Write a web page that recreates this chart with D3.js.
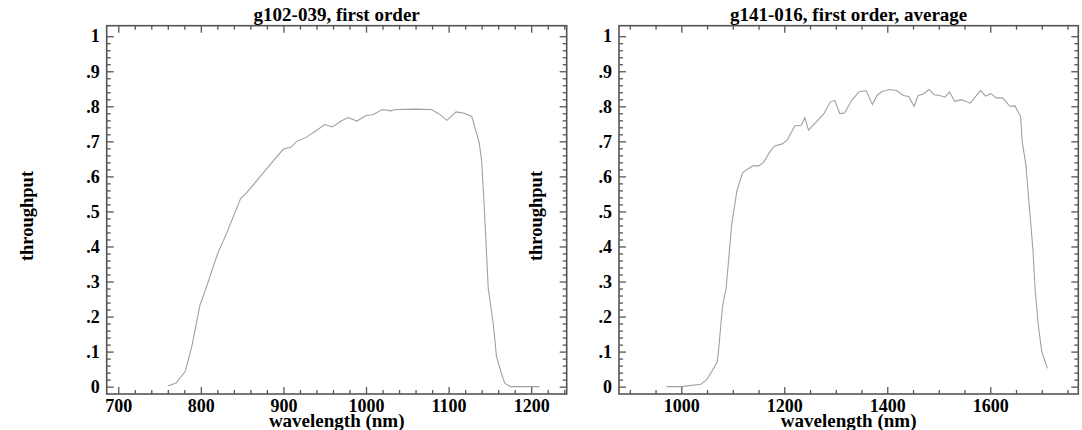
<!DOCTYPE html>
<html>
<head>
<meta charset="utf-8">
<script src="https://cdn.jsdelivr.net/npm/d3@7"></script>
<style>
  body { margin: 0; background: #fff; }
  svg text { font-family: "Liberation Serif", "Times New Roman", serif; font-weight: bold; fill: #000; }
</style>
</head>
<body>
<svg id="chart" width="1082" height="430"></svg>
<script>
// THE DATA
// g102 grism, first order
const g102Wave = [760, 770, 781, 789, 799, 806, 821, 830, 848, 856, 888, 900, 909, 916, 928, 940, 950, 959, 970, 978, 989, 1000, 1008, 1020, 1030, 1036, 1060, 1079, 1088, 1098, 1109, 1118, 1128, 1137, 1140, 1143, 1148, 1154, 1158, 1163, 1168, 1175, 1210];
const g102Thru = [0.002, 0.01, 0.043, 0.114, 0.233, 0.279, 0.384, 0.431, 0.536, 0.555, 0.645, 0.678, 0.683, 0.70, 0.712, 0.731, 0.748, 0.741, 0.758, 0.768, 0.758, 0.774, 0.776, 0.791, 0.787, 0.791, 0.792, 0.791, 0.779, 0.76, 0.784, 0.781, 0.771, 0.697, 0.645, 0.521, 0.28, 0.181, 0.086, 0.045, 0.01, 0.0, 0.0];

// g141 grism, first order, average
const g141Wave = [971, 1000, 1038, 1049, 1059, 1070, 1073, 1080, 1087, 1098, 1108, 1119, 1129, 1139, 1150, 1160, 1171, 1181, 1195, 1206, 1220, 1233, 1240, 1247, 1265, 1277, 1289, 1298, 1308, 1317, 1331, 1345, 1359, 1371, 1380, 1390, 1404, 1418, 1431, 1442, 1452, 1460, 1470, 1481, 1491, 1502, 1512, 1521, 1531, 1544, 1561, 1581, 1591, 1601, 1612, 1624, 1638, 1648, 1659, 1662, 1669, 1676, 1683, 1687, 1693, 1700, 1711];
const g141Thru = [0, 0, 0.007, 0.019, 0.043, 0.071, 0.114, 0.229, 0.28, 0.464, 0.559, 0.611, 0.621, 0.63, 0.63, 0.64, 0.668, 0.687, 0.692, 0.704, 0.744, 0.746, 0.767, 0.732, 0.76, 0.779, 0.812, 0.817, 0.779, 0.781, 0.817, 0.841, 0.845, 0.805, 0.831, 0.842, 0.848, 0.845, 0.831, 0.828, 0.80, 0.831, 0.835, 0.848, 0.833, 0.831, 0.826, 0.841, 0.814, 0.819, 0.809, 0.845, 0.829, 0.836, 0.824, 0.824, 0.80, 0.801, 0.77, 0.70, 0.635, 0.512, 0.389, 0.28, 0.18, 0.10, 0.052];

// ticks
const yTicks = [0, 0.1, 0.2, 0.3, 0.4, 0.5, 0.6, 0.7, 0.8, 0.9, 1];
const yTickLabels = ["0", ".1", ".2", ".3", ".4", ".5", ".6", ".7", ".8", ".9", "1"];
const g102Ticks = [700, 800, 900, 1000, 1100, 1200];
const g141Ticks = [1000, 1200, 1400, 1600];

const titles = ["g102-039, first order", "g141-016, first order, average"];
const xTitle = "wavelength (nm)";
const yTitle = "throughput";


// SETTING UP
const svg = d3.select("#chart");
svg.append("rect").attr("width", 1082).attr("height", 430).attr("fill", "#fff");

const boxColor = "#555";
const lineColor = "#a0a0a0";

function drawPanel(cfg) {
  const x = d3.scaleLinear().domain(cfg.xDomain).range([cfg.left, cfg.right]);
  const y = d3.scaleLinear().domain([-0.021, 1.03]).range([394, 25.7]);
  const top = y.range()[1], bottom = y.range()[0];

  const g = svg.append("g");

  const xMinor = d3.range(Math.ceil(cfg.xDomain[0] / cfg.minorStep) * cfg.minorStep, cfg.xDomain[1], cfg.minorStep)
    .filter(v => !cfg.ticks.includes(v));
  const yMinor = d3.range(0, 51).map(i => i / 50).filter(v => (Math.round(v * 50) % 5) !== 0);

  // major ticks + labels, all four sides point inward
  g.append("g").attr("transform", `translate(0,${bottom})`)
    .call(d3.axisBottom(x).tickValues(cfg.ticks).tickSize(-7).tickPadding(5).tickFormat(d3.format("d")));
  g.append("g").attr("transform", `translate(0,${top})`)
    .call(d3.axisTop(x).tickValues(cfg.ticks).tickSize(-7).tickFormat(""));
  g.append("g").attr("transform", `translate(${cfg.left},0)`)
    .call(d3.axisLeft(y).tickValues(yTicks).tickSize(-7).tickPadding(7).tickFormat((d, i) => yTickLabels[i]));
  g.append("g").attr("transform", `translate(${cfg.right},0)`)
    .call(d3.axisRight(y).tickValues(yTicks).tickSize(-7).tickFormat(""));

  // minor ticks
  g.append("g").attr("transform", `translate(0,${bottom})`)
    .call(d3.axisBottom(x).tickValues(xMinor).tickSize(-4).tickFormat(""));
  g.append("g").attr("transform", `translate(0,${top})`)
    .call(d3.axisTop(x).tickValues(xMinor).tickSize(-4).tickFormat(""));
  g.append("g").attr("transform", `translate(${cfg.left},0)`)
    .call(d3.axisLeft(y).tickValues(yMinor).tickSize(-4).tickFormat(""));
  g.append("g").attr("transform", `translate(${cfg.right},0)`)
    .call(d3.axisRight(y).tickValues(yMinor).tickSize(-4).tickFormat(""));

  g.selectAll(".domain").remove();
  g.selectAll(".tick line").attr("stroke", boxColor).attr("stroke-width", 1.3);
  g.selectAll(".tick text").style("font-size", "18px").attr("fill", "#000");

  // the curve
  const pts = cfg.wave.map((w, i) => [w, cfg.thru[i]]);
  g.append("path")
    .datum(pts)
    .attr("fill", "none")
    .attr("stroke", lineColor)
    .attr("stroke-width", 1.1)
    .attr("d", d3.line().x(d => x(d[0])).y(d => y(d[1])));

  // frame
  g.append("rect")
    .attr("x", cfg.left).attr("y", top)
    .attr("width", cfg.right - cfg.left).attr("height", bottom - top)
    .attr("fill", "none").attr("stroke", boxColor).attr("stroke-width", 1.6);

  // labels
  const cx = (cfg.left + cfg.right) / 2;
  g.append("text").attr("x", cx).attr("y", 21).attr("text-anchor", "middle")
    .style("font-size", "19px").text(cfg.title);
  g.append("text").attr("x", cx).attr("y", 426.5).attr("text-anchor", "middle")
    .style("font-size", "19px").text(xTitle);
  g.append("text")
    .attr("transform", `translate(${cfg.yTitleX},216) rotate(-90)`)
    .attr("text-anchor", "middle")
    .style("font-size", "18.5px").text(yTitle);
}

drawPanel({
  left: 106.7, right: 566.7, xDomain: [686, 1243],
  ticks: g102Ticks, minorStep: 20,
  wave: g102Wave, thru: g102Thru,
  title: titles[0], yTitleX: 33
});

drawPanel({
  left: 619, right: 1078.3, xDomain: [879, 1771],
  ticks: g141Ticks, minorStep: 50,
  wave: g141Wave, thru: g141Thru,
  title: titles[1], yTitleX: 542
});
</script>
</body>
</html>
